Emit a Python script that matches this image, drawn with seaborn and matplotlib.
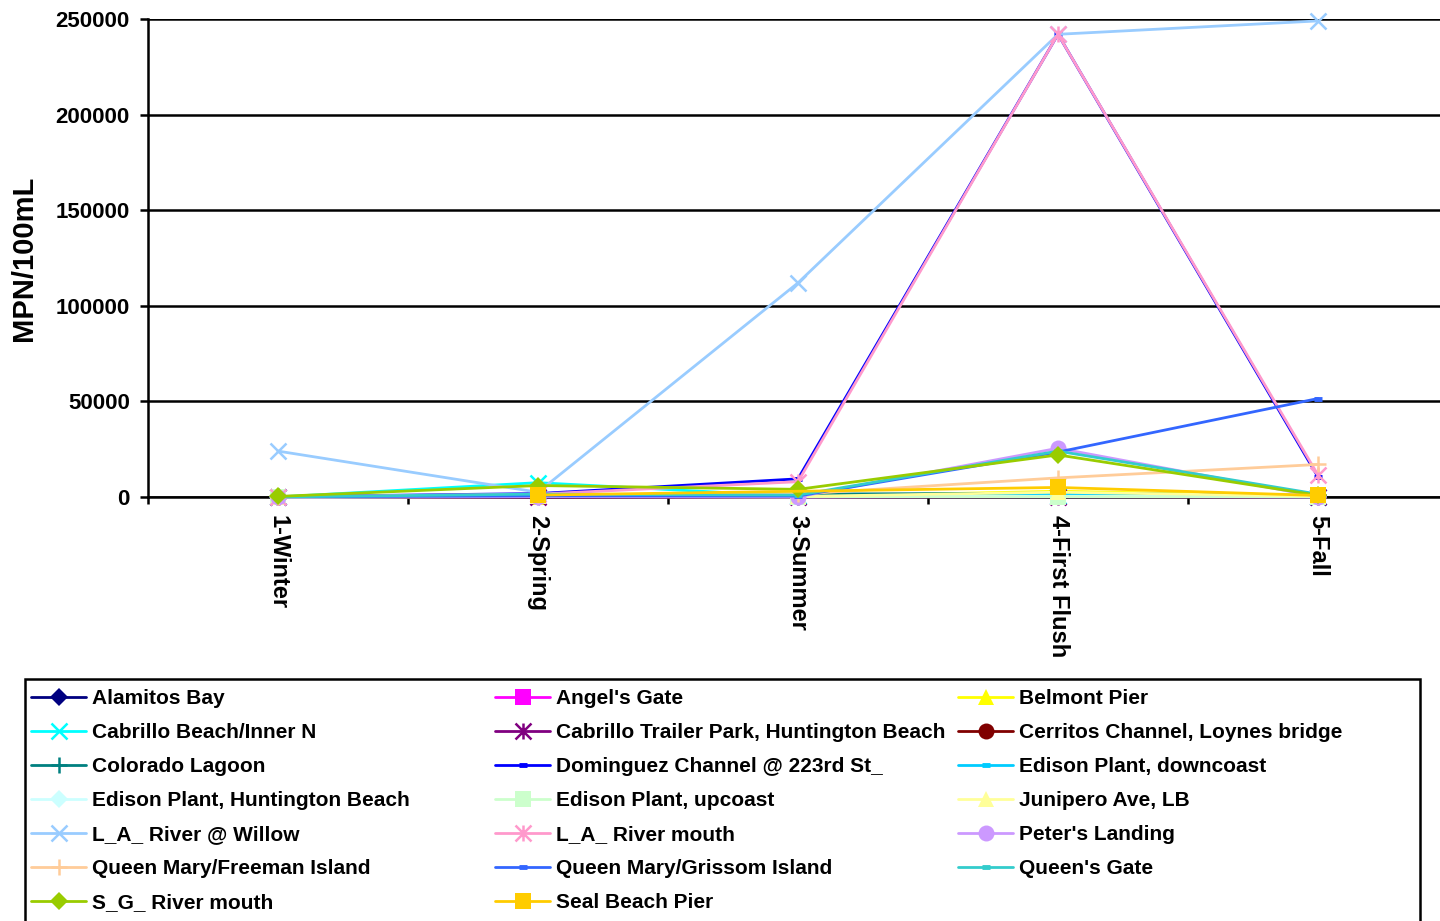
import numpy as np
import pandas as pd
import matplotlib
matplotlib.use("Agg")
import matplotlib.pyplot as plt
from matplotlib.lines import Line2D
from matplotlib.patches import Rectangle
from matplotlib.path import Path
import seaborn as sns

# ---- data: MPN/100mL by season at each sampling site ----
seasons = ["1-Winter", "2-Spring", "3-Summer", "4-First Flush", "5-Fall"]

sites = [
    "Alamitos Bay", "Angel's Gate", "Belmont Pier",
    "Cabrillo Beach/Inner N", "Cabrillo Trailer Park, Huntington Beach",
    "Cerritos Channel, Loynes bridge", "Colorado Lagoon",
    "Dominguez Channel @ 223rd St_", "Edison Plant, downcoast",
    "Edison Plant, Huntington Beach", "Edison Plant, upcoast",
    "Junipero Ave, LB", "L_A_ River @ Willow", "L_A_ River mouth",
    "Peter's Landing", "Queen Mary/Freeman Island",
    "Queen Mary/Grissom Island", "Queen's Gate", "S_G_ River mouth",
    "Seal Beach Pier",
]

alamitos_bay = [20, 300, 200, 800, 100]
angels_gate = [10, 100, 20, 300, 20]
belmont_pier = [10, 200, 100, 3000, 600]
cabrillo_beach = [20, 7500, 300, 500, 100]
cabrillo_trailer_park = [10, 100, 50, 100, 50]
cerritos_channel = [100, 800, 600, 1500, 300]
colorado_lagoon = [300, 1000, 1500, 2000, 800]
dominguez_channel = [200, 1800, 9500, 242000, 10500]
edison_downcoast = [10, 400, 200, 1600, 100]
edison_huntington = [10, 200, 100, 400, 100]
edison_upcoast = [10, 300, 100, 150, 100]
junipero_ave = [50, 600, 300, 2500, 400]
la_river_willow = [24000, 2500, 112000, 242000, 249000]
la_river_mouth = [100, 1500, 8000, 242000, 11500]
peters_landing = [20, 200, 100, 25500, 200]
qm_freeman = [100, 1000, 1500, 10000, 17000]
qm_grissom = [100, 600, 500, 23500, 51500]
queens_gate = [50, 1500, 1000, 24000, 1500]
sg_river_mouth = [300, 6000, 4000, 22000, 900]
seal_beach_pier = [np.nan, 1000, np.nan, 5000, 800]

site_values = [
    alamitos_bay, angels_gate, belmont_pier, cabrillo_beach,
    cabrillo_trailer_park, cerritos_channel, colorado_lagoon,
    dominguez_channel, edison_downcoast, edison_huntington, edison_upcoast,
    junipero_ave, la_river_willow, la_river_mouth, peters_landing,
    qm_freeman, qm_grissom, queens_gate, sg_river_mouth, seal_beach_pier,
]

y_ticks = [0, 50000, 100000, 150000, 200000, 250000]

# ---- styles ----
asterisk = Path(
    [(-1, -1), (1, 1), (-1, 1), (1, -1), (0, -1), (0, 1)],
    [Path.MOVETO, Path.LINETO, Path.MOVETO, Path.LINETO, Path.MOVETO, Path.LINETO],
)
colors = [
    "#000080", "#FF00FF", "#FFFF00", "#00FFFF", "#800080", "#800000",
    "#008080", "#0000FF", "#00CCFF", "#CCFFFF", "#CCFFCC", "#FFFF99",
    "#99CCFF", "#FF99CC", "#CC99FF", "#FFCC99", "#3366FF", "#33CCCC",
    "#99CC00", "#FFCC00",
]
markers = [
    "D", "s", "^", "x", asterisk, "o", "+", "_", "_", "D", "s", "^",
    "x", asterisk, "o", "+", "_", "_", "D", "s",
]


def marker_kws(m, c):
    if m == "D":
        return dict(marker="D", ms=9, mew=0, mfc=c, mec=c)
    if m in ("s", "o", "^"):
        return dict(marker=m, ms=11.5, mew=0, mfc=c, mec=c)
    if m == "_":
        return dict(marker="_", ms=6, mew=3.5, mfc=c, mec=c)
    return dict(marker=m, ms=11.5, mew=1.8, mfc=c, mec=c)


rows = []
for name, vals in zip(sites, site_values):
    for i, (s, v) in enumerate(zip(seasons, vals)):
        rows.append({"site": name, "season": s, "pos": i, "mpn": v})
df = pd.DataFrame(rows)

sns.set_theme(style="white")
plt.rcParams["font.family"] = ["Liberation Sans", "DejaVu Sans"]
plt.rcParams["font.weight"] = "bold"
for key in ("text.color", "axes.labelcolor", "xtick.color", "ytick.color",
            "axes.edgecolor"):
    plt.rcParams[key] = "black"

fig = plt.figure(figsize=(14.4, 9.21), dpi=100)
ax = fig.add_axes([148 / 1440, 1 - 497 / 921, 1300 / 1440, 478 / 921])

for name, c, m in zip(sites, colors, markers):
    sub = df[df["site"] == name]
    sns.lineplot(data=sub, x="pos", y="mpn", ax=ax, color=c, lw=2.0,
                 clip_on=False, zorder=3, legend=False,
                 **marker_kws(m, c))

ax.set_xlim(-0.5, 4.5)
ax.set_ylim(0, 250000)
ax.set_xlabel("")
ax.set_ylabel("")

ax.set_yticks(y_ticks)
ax.set_yticklabels([str(v) for v in y_ticks], fontsize=16, fontweight="bold",
                   color="black")
ax.set_xticks(range(len(seasons)))
ax.set_xticklabels(seasons, rotation=-90, fontsize=17, fontweight="bold",
                   ha="center", va="top", color="black")
ax.set_xticks(np.arange(-0.5, len(seasons)), minor=True)
ax.tick_params(axis="x", which="major", length=0, pad=13)
ax.tick_params(axis="x", which="minor", length=5, width=1.8, color="black",
               direction="out", bottom=True)
ax.tick_params(axis="y", which="major", length=6, width=1.8, color="black",
               direction="out", left=True, pad=7)

ax.yaxis.grid(True, color="black", lw=1.8)
ax.xaxis.grid(False)
ax.set_axisbelow(True)
for side in ("top", "right"):
    ax.spines[side].set_visible(False)
for side in ("left", "bottom"):
    ax.spines[side].set_color("black")
    ax.spines[side].set_linewidth(1.8)

fig.text(24 / 1440, 1 - 258 / 921, "MPN/100mL", rotation=90, ha="center",
         va="center", fontsize=21, fontweight="bold", color="black")

# ---- legend: three columns filled row by row, inside one frame ----
handles = [Line2D([], [], color=c, lw=2.0, **marker_kws(m, c))
           for c, m in zip(colors, markers)]
col_x = [31, 495, 958]
for j, x0 in enumerate(col_x):
    idx = list(range(j, len(sites), 3))
    fig.legend([handles[i] for i in idx], [sites[i] for i in idx],
               loc="upper left", bbox_to_anchor=(x0 / 1440, 1 - 689 / 921),
               frameon=False, borderpad=0, borderaxespad=0,
               handlelength=2.65, handletextpad=0.3, labelspacing=0.72,
               labelcolor="black", prop={"size": 15, "weight": "bold"})

fig.add_artist(Rectangle((25 / 1440, -0.1), (1420 - 25) / 1440,
                         (921 - 679) / 921 + 0.1, transform=fig.transFigure,
                         fill=False, ec="black", lw=1.8))

fig.savefig("out.png", dpi=100)
